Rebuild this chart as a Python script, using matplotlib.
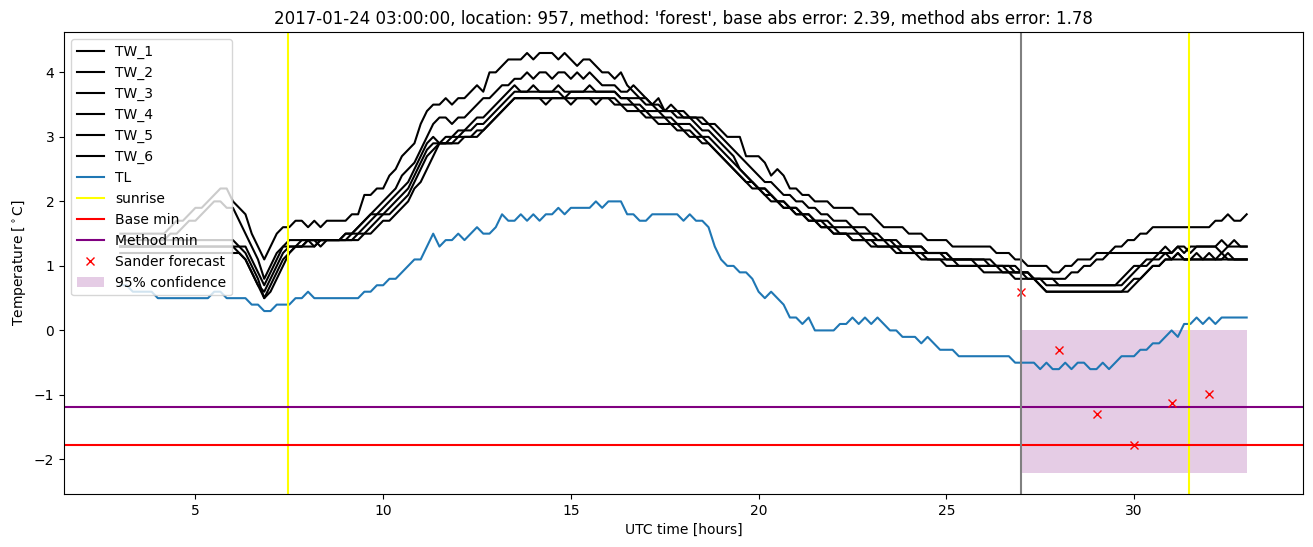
import numpy as np
import matplotlib
matplotlib.use("Agg")
import matplotlib.pyplot as plt

# ---------------- data ----------------
# 10-minute samples from 03:00 (hour 3.0) to hour 33.0 -> 181 samples
t_start = 3.0
n_samples = 181

# each series given as change points: (sample index, value held from that index on)
TW_1 = [(0,1.5),(8,1.6),(9,1.7),(11,1.8),(12,1.9),(14,2.0),(15,2.1),(16,2.2),(18,2.0),(19,1.9),(20,1.8),
        (21,1.5),(22,1.3),(23,1.1),(24,1.3),(25,1.5),(26,1.6),(28,1.7),(30,1.6),(31,1.7),(32,1.6),(33,1.7),
        (37,1.8),(39,2.1),(41,2.2),(43,2.4),(44,2.5),(45,2.7),(46,2.8),(47,2.9),(48,3.2),(49,3.4),(50,3.5),
        (52,3.6),(53,3.5),(54,3.6),(56,3.7),(57,3.8),(58,3.7),(59,4.0),(61,4.1),(62,4.2),(65,4.3),(66,4.2),
        (67,4.3),(70,4.2),(71,4.3),(72,4.2),(73,4.1),(74,4.2),(76,4.1),(77,4.0),(79,3.9),(80,4.0),(81,3.8),
        (82,3.7),(83,3.6),(85,3.5),(86,3.6),(87,3.4),(90,3.3),(94,3.2),(96,3.1),(97,3.0),(100,2.7),(103,2.6),
        (104,2.4),(105,2.5),(106,2.4),(107,2.2),(109,2.1),(111,2.0),(114,1.9),(118,1.8),(121,1.7),(122,1.6),
        (126,1.5),(129,1.4),(133,1.3),(140,1.2),(143,1.1),(145,1.0),(149,0.9),(151,1.0),(153,1.1),(156,1.2),
        (159,1.3),(161,1.4),(163,1.5),(165,1.6),(175,1.7),(177,1.8),(178,1.7),(180,1.8)]
TW_2 = [(0,1.3),(6,1.4),(8,1.5),(10,1.6),(11,1.7),(13,1.8),(14,1.9),(15,2.0),(17,1.9),(19,1.7),(20,1.5),
        (21,1.3),(22,1.1),(23,0.8),(24,1.0),(25,1.2),(26,1.3),(30,1.4),(36,1.5),(38,1.6),(39,1.7),(40,1.8),
        (41,1.9),(42,2.0),(43,2.1),(44,2.2),(45,2.4),(46,2.5),(47,2.6),(48,2.8),(49,3.0),(50,3.2),(51,3.3),
        (53,3.2),(54,3.3),(56,3.4),(57,3.5),(58,3.6),(60,3.7),(61,3.8),(63,3.9),(65,4.0),(66,3.9),(67,4.0),
        (69,3.9),(70,4.0),(72,3.9),(73,4.0),(74,3.9),(75,4.0),(76,3.9),(77,3.8),(80,3.7),(82,3.8),(83,3.7),
        (84,3.6),(85,3.5),(87,3.4),(88,3.5),(89,3.4),(91,3.3),(93,3.2),(95,3.1),(96,3.0),(97,2.9),(98,2.8),
        (99,2.7),(100,2.6),(101,2.5),(102,2.4),(103,2.3),(105,2.2),(106,2.1),(108,2.0),(110,1.9),(112,1.8),
        (114,1.7),(117,1.6),(120,1.5),(122,1.4),(124,1.3),(129,1.2),(133,1.1),(140,1.0),(144,0.9),(146,0.8),
        (152,0.9),(154,1.0),(156,1.1),(158,1.2),(167,1.3),(168,1.2),(169,1.3),(171,1.2),(172,1.3),(176,1.4),
        (177,1.3)]
TW_3 = [(0,1.4),(19,1.3),(21,1.1),(22,0.9),(23,0.7),(24,0.9),(25,1.1),(26,1.3),(27,1.4),(32,1.3),(33,1.4),
        (36,1.5),(38,1.6),(39,1.7),(40,1.8),(42,1.9),(43,2.0),(44,2.1),(45,2.2),(46,2.3),(47,2.5),(48,2.7),
        (49,2.9),(50,3.0),(51,2.9),(52,3.0),(54,3.1),(56,3.2),(57,3.3),(59,3.4),(60,3.5),(61,3.6),(62,3.7),
        (63,3.8),(64,3.7),(66,3.8),(67,3.7),(70,3.8),(71,3.7),(75,3.8),(76,3.7),(80,3.6),(84,3.5),(86,3.4),
        (89,3.3),(92,3.2),(93,3.1),(95,3.0),(96,2.9),(97,2.8),(98,2.7),(99,2.5),(100,2.4),(101,2.3),(102,2.2),
        (104,2.1),(105,2.0),(107,1.9),(109,1.8),(111,1.7),(114,1.6),(118,1.5),(121,1.4),(125,1.3),(129,1.2),
        (133,1.1),(139,1.0),(143,0.9),(146,0.8),(150,0.7),(161,0.8),(162,0.9),(163,1.0),(165,1.1),(167,1.2),
        (169,1.3),(170,1.2),(171,1.3),(176,1.2),(177,1.3),(178,1.4),(179,1.3)]
TW_4 = [(0,1.3),(19,1.2),(20,1.1),(21,0.9),(22,0.7),(23,0.6),(24,0.8),(25,1.0),(26,1.2),(27,1.3),(29,1.4),
        (31,1.3),(32,1.4),(37,1.5),(39,1.6),(40,1.7),(41,1.8),(43,1.9),(44,2.0),(45,2.1),(46,2.2),(47,2.4),
        (48,2.6),(49,2.8),(50,2.9),(53,3.0),(55,3.1),(57,3.2),(59,3.3),(60,3.4),(61,3.5),(62,3.6),(63,3.7),
        (71,3.6),(72,3.7),(80,3.6),(82,3.5),(84,3.4),(87,3.3),(89,3.2),(92,3.1),(93,3.0),(95,2.9),(96,2.8),
        (97,2.7),(98,2.6),(99,2.5),(100,2.4),(101,2.3),(102,2.2),(104,2.1),(105,2.0),(107,1.9),(109,1.8),
        (111,1.7),(113,1.6),(115,1.5),(119,1.4),(123,1.3),(127,1.2),(132,1.1),(137,1.0),(142,0.9),(146,0.8),
        (147,0.7),(148,0.6),(162,0.7),(163,0.8),(164,0.9),(165,1.0),(167,1.1),(169,1.2),(170,1.1),(174,1.2),
        (175,1.1),(177,1.2),(178,1.1)]
TW_5 = [(0,1.3),(20,1.2),(21,1.0),(22,0.8),(23,0.5),(24,0.7),(25,0.9),(26,1.1),(27,1.2),(28,1.3),(30,1.4),
        (38,1.5),(40,1.6),(41,1.7),(42,1.8),(44,1.9),(45,2.0),(46,2.1),(47,2.3),(48,2.5),(49,2.7),(50,2.8),
        (51,2.9),(54,3.0),(57,3.1),(59,3.2),(60,3.3),(61,3.4),(62,3.5),(63,3.6),(68,3.5),(69,3.6),(72,3.5),
        (73,3.6),(76,3.5),(77,3.6),(80,3.5),(83,3.4),(85,3.3),(88,3.2),(90,3.1),(92,3.0),(94,2.9),(95,2.8),
        (96,2.7),(97,2.6),(98,2.5),(99,2.4),(100,2.3),(102,2.2),(103,2.1),(105,2.0),(106,1.9),(108,1.8),
        (110,1.7),(112,1.6),(114,1.5),(117,1.4),(121,1.3),(125,1.2),(129,1.1),(134,1.0),(141,0.9),(145,0.8),
        (148,0.7),(160,0.8),(161,0.9),(162,1.0),(164,1.1),(166,1.2),(168,1.1),(172,1.2),(173,1.1)]
TW_6 = [(0,1.2),(20,1.1),(21,0.9),(22,0.7),(23,0.5),(24,0.6),(25,0.8),(26,1.0),(27,1.2),(28,1.3),(32,1.4),
        (39,1.5),(41,1.6),(42,1.7),(44,1.8),(45,1.9),(46,2.0),(47,2.2),(48,2.3),(49,2.5),(50,2.7),(51,2.9),
        (55,3.0),(58,3.1),(59,3.2),(60,3.3),(61,3.4),(62,3.5),(63,3.6),(79,3.5),(81,3.4),(84,3.3),(86,3.2),
        (89,3.1),(91,3.0),(93,2.9),(95,2.8),(96,2.7),(97,2.6),(98,2.5),(99,2.4),(100,2.3),(101,2.2),(103,2.1),
        (104,2.0),(106,1.9),(108,1.8),(110,1.7),(112,1.6),(114,1.5),(117,1.4),(120,1.3),(124,1.2),(128,1.1),
        (132,1.0),(138,0.9),(143,0.8),(147,0.7),(148,0.6),(161,0.7),(162,0.8),(164,0.9),(165,1.0),(167,1.1),
        (169,1.2),(170,1.1),(176,1.2),(177,1.1)]
TL = [(0,0.7),(2,0.6),(6,0.5),(15,0.6),(17,0.5),(21,0.4),(23,0.3),(25,0.4),(28,0.5),(30,0.6),(31,0.5),
      (39,0.6),(41,0.7),(43,0.8),(45,0.9),(46,1.0),(47,1.1),(49,1.3),(50,1.5),(51,1.3),(52,1.4),(54,1.5),
      (55,1.4),(56,1.5),(57,1.6),(58,1.5),(60,1.6),(61,1.8),(62,1.7),(64,1.8),(65,1.7),(66,1.8),(67,1.7),
      (68,1.8),(70,1.9),(71,1.8),(72,1.9),(76,2.0),(77,1.9),(78,2.0),(81,1.8),(83,1.7),(85,1.8),(90,1.7),
      (91,1.8),(92,1.7),(94,1.6),(95,1.3),(96,1.1),(97,1.0),(99,0.9),(101,0.8),(102,0.6),(103,0.5),(104,0.6),
      (105,0.5),(106,0.4),(107,0.2),(109,0.1),(110,0.2),(111,0.0),(115,0.1),(117,0.2),(118,0.1),(119,0.2),
      (120,0.1),(121,0.2),(122,0.1),(123,0.0),(125,-0.1),(128,-0.2),(129,-0.1),(130,-0.2),(131,-0.3),
      (134,-0.4),(143,-0.5),(147,-0.6),(148,-0.5),(149,-0.6),(151,-0.5),(152,-0.6),(153,-0.5),(155,-0.6),
      (157,-0.5),(158,-0.6),(159,-0.5),(160,-0.4),(163,-0.3),(165,-0.2),(167,-0.1),(168,0.0),(169,-0.1),
      (170,0.1),(172,0.2),(173,0.1),(174,0.2),(175,0.1),(176,0.2)]

tw_names = ["TW_1", "TW_2", "TW_3", "TW_4", "TW_5", "TW_6"]
tw_series = [TW_1, TW_2, TW_3, TW_4, TW_5, TW_6]

sunrise_hours = [7.47, 31.47]
forecast_start = 27.0
base_min = -1.78
method_min = -1.18

sander_hours = [27, 28, 29, 30, 31, 32]
sander_values = [0.60, -0.31, -1.29, -1.78, -1.12, -0.98]

conf_hours = [27, 33]
conf_low = -2.21
conf_high = 0.0

title = ("2017-01-24 03:00:00, location: 957, method: 'forest', "
         "base abs error: 2.39, method abs error: 1.78")


def expand(changes, n):
    out = np.empty(n)
    for k, (idx, val) in enumerate(changes):
        end = changes[k + 1][0] if k + 1 < len(changes) else n
        out[idx:end] = val
    return out


hours = t_start + np.arange(n_samples) / 6.0

# ---------------- figure ----------------
W, H = 1313, 547
fig = plt.figure(figsize=(W / 100, H / 100), dpi=100)
ax = fig.add_axes([64 / W, 53 / H, 1239 / W, 462 / H])

for name, ser in zip(tw_names, tw_series):
    ax.plot(hours, expand(ser, n_samples), color="black", label=name)
ax.plot(hours, expand(TL, n_samples), color="#1f77b4", label="TL")

ax.axvline(sunrise_hours[0], color="yellow", label="sunrise")
ax.axvline(sunrise_hours[1], color="yellow")
ax.axhline(base_min, color="red", label="Base min")
ax.axhline(method_min, color="purple", label="Method min")
ax.plot(sander_hours, sander_values, "x", color="red", linestyle="none", label="Sander forecast")
ax.fill_between(conf_hours, [conf_low] * 2, [conf_high] * 2, color="purple", alpha=0.2,
                linewidth=0, label="95% confidence")
ax.axvline(forecast_start, color="gray")

ax.set_title(title)
ax.set_xlabel("UTC time [hours]")
ax.set_ylabel(r"Temperature [$^\circ$C]")
ax.legend(loc="upper left")

fig.savefig("out.png", dpi=100)
